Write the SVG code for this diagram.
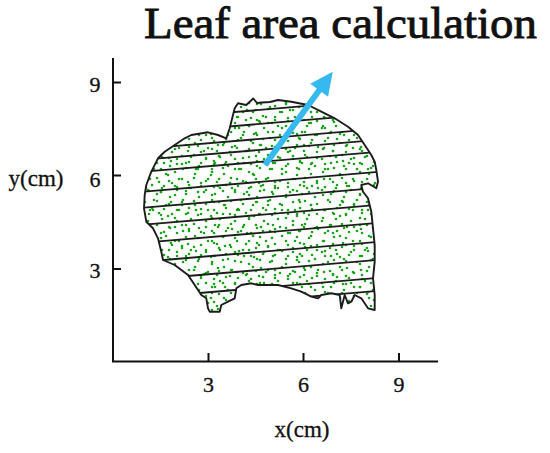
<svg xmlns="http://www.w3.org/2000/svg" width="550" height="453" viewBox="0 0 550 453">
<style>
.ax{stroke:#111;stroke-width:2;fill:none}
.lbl{font-family:"Liberation Serif","Times New Roman",serif;font-size:22px;fill:#111;stroke:#111;stroke-width:0.3}
.ttl{font-family:"Liberation Serif","Times New Roman",serif;font-size:45px;fill:#111;stroke:#111;stroke-width:0.9}
.hatch{stroke:#1c1c1c;stroke-width:1.9;fill:none}
.outline{stroke:#1c1c1c;stroke-width:1.9;fill:none;stroke-linejoin:round}
.d{fill:#19a319}
</style>
<defs>
<polygon id="leafShape" points="234.7,108.3 238,103.3 246.3,105 249.7,101.7 253.3,98.5 257,103 262,102.5 270,102 278,100 291.3,101.7 308,105 321.3,111.7 334.7,118.3 348,126.7 358,135 364.7,145 371.3,155 374.7,161.7 376.3,170 378,181.7 376.3,188.3 368,183.3 361.3,185 363,191.7 368,198.3 371.3,211.7 373,228.3 374.7,245 374.7,261.7 373,278.3 374.7,295 374.7,310 368,308.3 361.3,298.3 354.7,295 351.3,301.7 348,303.3 344.7,295 341.3,308.3 339.7,295 331.3,293.3 321.3,295 318,298.3 311.3,296.7 301.3,291.7 291.3,288.3 278,285 264.7,285 258,285 251.3,283.3 241.3,285 236.3,288.3 234.7,298.3 228,301.7 221.3,305 219.7,311.7 209.7,311.7 208,308.3 206.3,298.3 201.3,295 194.7,285 188,275 174.7,265 163,260 161.3,251.7 158,238.3 153,228.3 146.3,221.7 144,208.3 144.7,195 146.3,185 151.3,171.7 158,158.3 164.7,151.7 174.7,145 184.7,138.3 191.3,135 208,132.3 218,135 226.3,138.3 229.7,128.3 231.3,121.7"/>
<clipPath id="leafClip"><use href="#leafShape"/></clipPath>
<pattern id="dotsA" patternUnits="userSpaceOnUse" width="29" height="31">
<circle class="d" cx="3" cy="4" r="1.3"/><circle class="d" cx="17" cy="2" r="1.3"/><circle class="d" cx="25" cy="11" r="1.3"/><circle class="d" cx="9" cy="14" r="1.3"/><circle class="d" cx="21" cy="19" r="1.3"/><circle class="d" cx="5" cy="24" r="1.3"/><circle class="d" cx="14" cy="27" r="1.3"/><circle class="d" cx="27" cy="28" r="1.3"/><circle class="d" cx="12" cy="8" r="1.3"/>
</pattern>
<pattern id="dotsB" patternUnits="userSpaceOnUse" width="37" height="23" x="7" y="5">
<circle class="d" cx="6" cy="3" r="1.3"/><circle class="d" cx="20" cy="6" r="1.3"/><circle class="d" cx="31" cy="2" r="1.3"/><circle class="d" cx="2" cy="12" r="1.3"/><circle class="d" cx="14" cy="15" r="1.3"/><circle class="d" cx="27" cy="13" r="1.3"/><circle class="d" cx="34" cy="19" r="1.3"/><circle class="d" cx="9" cy="20" r="1.3"/><circle class="d" cx="22" cy="21" r="1.3"/>
</pattern>
<pattern id="dotsC" patternUnits="userSpaceOnUse" width="43" height="41" x="13" y="17">
<circle class="d" cx="4" cy="7" r="1.3"/><circle class="d" cx="19" cy="11" r="1.3"/><circle class="d" cx="33" cy="5" r="1.3"/><circle class="d" cx="40" cy="24" r="1.3"/><circle class="d" cx="11" cy="29" r="1.3"/><circle class="d" cx="26" cy="35" r="1.3"/><circle class="d" cx="29" cy="21" r="1.3"/>
</pattern>
</defs>
<rect width="550" height="453" fill="#fff"/>
<g id="title"><text class="ttl" x="144" y="38" textLength="393" lengthAdjust="spacingAndGlyphs">Leaf area calculation</text></g>
<g id="axes">
<polyline class="ax" points="113,58 113,361.5 438,361.5"/>
<line class="ax" x1="113" y1="82.5" x2="121" y2="82.5"/>
<line class="ax" x1="113" y1="175.5" x2="121" y2="175.5"/>
<line class="ax" x1="113" y1="269" x2="121" y2="269"/>
<line class="ax" x1="208.5" y1="361.5" x2="208.5" y2="353"/>
<line class="ax" x1="303.5" y1="361.5" x2="303.5" y2="353"/>
<line class="ax" x1="399" y1="361.5" x2="399" y2="353"/>
</g>
<g id="tick-labels">
<text class="lbl" x="95" y="92" text-anchor="middle">9</text>
<text class="lbl" x="95" y="187" text-anchor="middle">6</text>
<text class="lbl" x="95" y="277.5" text-anchor="middle">3</text>
<text class="lbl" x="208.5" y="392" text-anchor="middle">3</text>
<text class="lbl" x="303.5" y="392" text-anchor="middle">6</text>
<text class="lbl" x="399" y="392" text-anchor="middle">9</text>
</g>
<g id="axis-titles">
<text class="lbl" x="36" y="186" text-anchor="middle" style="font-size:23px">y(cm)</text>
<text class="lbl" x="302" y="437" text-anchor="middle" style="font-size:23px">x(cm)</text>
</g>
<g id="leaf">
<use href="#leafShape" fill="#fff"/>
<g clip-path="url(#leafClip)">
<rect x="140" y="95" width="245" height="220" fill="url(#dotsA)"/>
<rect x="140" y="95" width="245" height="220" fill="url(#dotsB)"/>
<rect x="140" y="95" width="245" height="220" fill="url(#dotsC)"/>
<g id="hatch" class="hatch">
<line x1="140" y1="120" x2="382" y2="99.5"/>
<line x1="140" y1="134" x2="382" y2="113.5"/>
<line x1="140" y1="149" x2="382" y2="128.5"/>
<line x1="140" y1="160" x2="382" y2="139.5"/>
<line x1="140" y1="172" x2="382" y2="151.5"/>
<line x1="140" y1="192" x2="382" y2="171.5"/>
<line x1="140" y1="208" x2="382" y2="187.5"/>
<line x1="140" y1="225" x2="382" y2="204.5"/>
<line x1="140" y1="243" x2="382" y2="222.5"/>
<line x1="140" y1="262" x2="382" y2="241.5"/>
<line x1="140" y1="280" x2="382" y2="259.5"/>
<line x1="140" y1="298" x2="382" y2="277.5"/>
<line x1="300" y1="297.4" x2="382" y2="290.5"/>
</g>
</g>
<use href="#leafShape" class="outline"/>
</g>
<g id="arrow">
<polygon fill="#36b9ef" points="262.6,163.2 316.8,88.5 310.3,83.8 332.7,71.7 328.1,96.8 321.6,92.1 267.4,166.8"/>
</g>
</svg>
